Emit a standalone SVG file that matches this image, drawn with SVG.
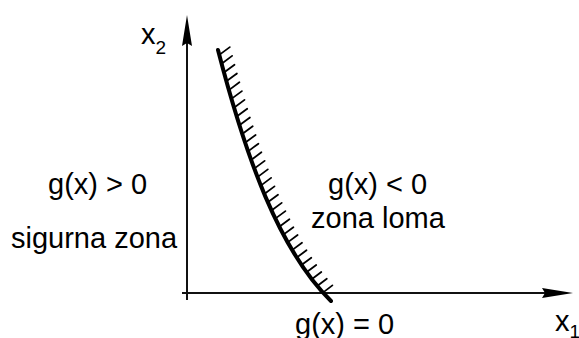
<svg xmlns="http://www.w3.org/2000/svg" width="579" height="338" viewBox="0 0 579 338">
  <style>
    .lbl { font-family: "Liberation Sans", Arial, sans-serif; font-size: 29px; fill: #000; }
    .sub { font-size: 19px; }
    .axis { stroke: #111; stroke-width: 2; fill: none; }
    .hatch line { stroke: #000; stroke-width: 1.8; stroke-linecap: round; }
  </style>
  <rect width="579" height="338" fill="#fff"/>

  <g id="axes">
    <line class="axis" x1="187" y1="300" x2="187" y2="40"/>
    <polygon points="187,15 192,46 187,43 182,46" fill="#000"/>
    <line class="axis" x1="182" y1="293" x2="548" y2="293"/>
    <polygon points="573,293 542,298 545,293 542,288" fill="#000"/>
  </g>

  <g id="boundary">
    <g class="hatch">
      <line x1="219.3" y1="54.9" x2="229.8" y2="47.1"/>
      <line x1="221.6" y1="63.7" x2="232.1" y2="55.9"/>
      <line x1="224.0" y1="72.5" x2="234.5" y2="64.7"/>
      <line x1="226.4" y1="81.3" x2="236.9" y2="73.5"/>
      <line x1="228.9" y1="90.1" x2="239.4" y2="82.3"/>
      <line x1="231.4" y1="98.9" x2="241.9" y2="91.1"/>
      <line x1="234.0" y1="107.7" x2="244.5" y2="99.9"/>
      <line x1="236.7" y1="116.5" x2="247.2" y2="108.7"/>
      <line x1="239.4" y1="125.3" x2="249.9" y2="117.5"/>
      <line x1="242.2" y1="134.0" x2="252.7" y2="126.2"/>
      <line x1="245.1" y1="142.8" x2="255.6" y2="135.0"/>
      <line x1="248.1" y1="151.4" x2="258.4" y2="143.7"/>
      <line x1="251.1" y1="160.0" x2="261.4" y2="152.3"/>
      <line x1="254.3" y1="168.6" x2="264.6" y2="160.9"/>
      <line x1="257.5" y1="177.1" x2="267.8" y2="169.4"/>
      <line x1="260.8" y1="185.6" x2="271.1" y2="177.9"/>
      <line x1="264.3" y1="194.0" x2="274.5" y2="186.4"/>
      <line x1="267.8" y1="202.3" x2="278.0" y2="194.7"/>
      <line x1="271.5" y1="210.5" x2="281.7" y2="202.9"/>
      <line x1="275.3" y1="218.6" x2="285.4" y2="211.1"/>
      <line x1="279.3" y1="226.7" x2="289.4" y2="219.2"/>
      <line x1="283.4" y1="234.6" x2="293.4" y2="227.2"/>
      <line x1="287.7" y1="242.4" x2="297.6" y2="235.0"/>
      <line x1="292.1" y1="250.1" x2="302.0" y2="242.7"/>
      <line x1="296.7" y1="257.6" x2="306.5" y2="250.3"/>
      <line x1="301.5" y1="265.0" x2="311.3" y2="257.7"/>
      <line x1="306.5" y1="272.2" x2="316.2" y2="265.0"/>
      <line x1="311.7" y1="279.2" x2="321.3" y2="272.0"/>
      <line x1="317.2" y1="286.0" x2="326.8" y2="278.8"/>
      <line x1="322.9" y1="292.6" x2="332.4" y2="285.4"/>
    </g>
    <path d="M218,50 C246,158 279,250 331,301" fill="none" stroke="#000" stroke-width="4" stroke-linecap="round"/>
  </g>

  <g id="labels">
    <text class="lbl" x="141" y="44">x<tspan class="sub" dy="10">2</tspan></text>
    <text class="lbl" x="555" y="331">x<tspan class="sub" dy="7">1</tspan></text>
    <text class="lbl" x="48" y="194">g(x) &gt; 0</text>
    <text class="lbl" x="11" y="248">sigurna zona</text>
    <text class="lbl" x="328" y="194">g(x) &lt; 0</text>
    <text class="lbl" x="311" y="228">zona loma</text>
    <text class="lbl" x="295" y="334">g(x) = 0</text>
  </g>
</svg>
